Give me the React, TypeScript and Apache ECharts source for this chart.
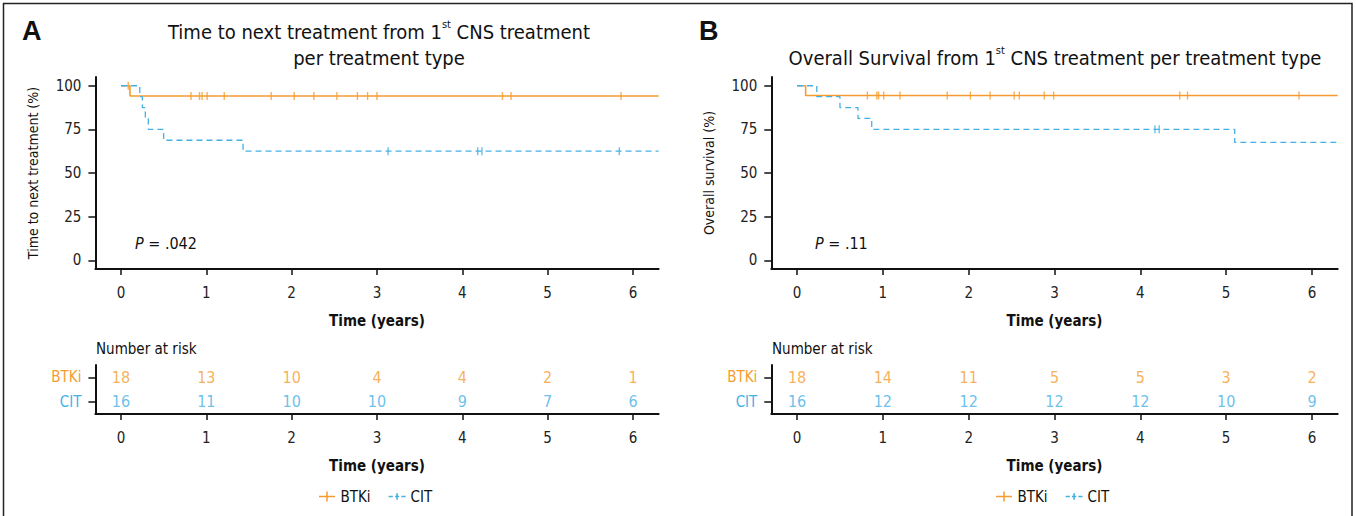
import React, { useEffect, useRef } from 'react';
import * as echarts from 'echarts';

const ORANGE = '#F59C30';
const BLUE = '#45B0E5';
const FONT = "'Liberation Sans Narrow', 'DejaVu Sans Condensed', 'Roboto Condensed', sans-serif";

const years = [0, 1, 2, 3, 4, 5, 6];
const yTicks = [0, 25, 50, 75, 100];
const groups = ['CIT', 'BTKi'];
const END_TIME = 6.3;

// Panel A: time to next treatment
const aBtkiEventTimes = [0.105];
const aBtkiSurv = [94.1];
const aBtkiCensor = [0.085, 0.82, 0.92, 0.95, 1.01, 1.21, 1.76, 2.03, 2.26, 2.53, 2.77, 2.89, 3.0, 4.47, 4.57, 5.86];
const aCitEventTimes = [0.22, 0.25, 0.285, 0.32, 0.5, 1.43];
const aCitSurv = [93.75, 87.5, 81.25, 75, 68.75, 62.5];
const aCitCensor = [3.13, 4.18, 4.23, 5.84];
const aRiskBtki = [18, 13, 10, 4, 4, 2, 1];
const aRiskCit = [16, 11, 10, 10, 9, 7, 6];

// Panel B: overall survival
const bBtkiEventTimes = [0.1];
const bBtkiSurv = [94.4];
const bBtkiCensor = [0.82, 0.93, 0.95, 1.01, 1.2, 1.75, 2.02, 2.25, 2.53, 2.59, 2.88, 2.99, 4.46, 4.55, 5.85];
const bCitEventTimes = [0.23, 0.5, 0.71, 0.87, 5.1];
const bCitSurv = [93.75, 87.5, 81.25, 75, 67.5];
const bCitCensor = [4.17, 4.22];
const bRiskBtki = [18, 14, 11, 5, 5, 3, 2];
const bRiskCit = [16, 12, 12, 12, 12, 10, 9];

function stepPoints(times: number[], surv: number[]) {
  const pts: number[][] = [[0, 100]];
  let cur = 100;
  times.forEach((t, i) => {
    pts.push([t, cur]);
    cur = surv[i];
    pts.push([t, cur]);
  });
  pts.push([END_TIME, cur]);
  return pts;
}
function survAt(times: number[], surv: number[], t: number) {
  let cur = 100;
  times.forEach((et, i) => {
    if (et <= t) cur = surv[i];
  });
  return cur;
}
function censorPoints(times: number[], surv: number[], cens: number[]) {
  return cens.map((c) => [c, survAt(times, surv, c)]);
}

const axisLineStyle = { show: true, onZero: false, lineStyle: { color: '#111', width: 2 } };
const tickStyle = { show: true, length: 6, lineStyle: { color: '#111', width: 1.5 } };

function plotX(grid: number) {
  return {
    type: 'value', gridIndex: grid, min: -0.3, max: END_TIME,
    name: 'Time (years)', nameLocation: 'middle', nameGap: 44,
    nameTextStyle: { fontFamily: FONT, fontSize: 15, fontWeight: 'bold', color: '#111' },
    axisLine: axisLineStyle,
    axisTick: { ...tickStyle, customValues: years },
    axisLabel: { customValues: years, margin: 16, fontFamily: FONT, fontSize: 15, color: '#222' },
    splitLine: { show: false },
  };
}
function plotY(grid: number, name: string) {
  return {
    type: 'value', gridIndex: grid, min: -5, max: 105,
    name, nameLocation: 'middle', nameGap: 55,
    nameTextStyle: { fontFamily: FONT, fontSize: 14, color: '#111' },
    axisLine: axisLineStyle,
    axisTick: { ...tickStyle, length: 7, customValues: yTicks },
    axisLabel: { customValues: yTicks, margin: 14, fontFamily: FONT, fontSize: 15, color: '#222' },
    splitLine: { show: false },
  };
}
function tableY(grid: number) {
  return {
    type: 'category', gridIndex: grid, data: groups,
    axisLine: axisLineStyle,
    axisTick: { ...tickStyle, length: 7, alignWithLabel: true },
    axisLabel: {
      margin: 14, fontFamily: FONT, fontSize: 15,
      formatter: (v: string) => `{${v}|${v}}`,
      rich: { BTKi: { color: ORANGE, fontFamily: FONT, fontSize: 15 }, CIT: { color: BLUE, fontFamily: FONT, fontSize: 15 } },
    },
    splitLine: { show: false },
  };
}

function kmSeries(name: string, color: string, dashed: boolean, grid: number, times: number[], surv: number[], cens: number[]) {
  return [
    {
      name, type: 'line', xAxisIndex: grid, yAxisIndex: grid, data: stepPoints(times, surv),
      showSymbol: false, symbol: 'none', color,
      lineStyle: { color, width: dashed ? 1.3 : 1.6, type: dashed ? [6, 4] : 'solid' },
      silent: true,
    },
    {
      name, type: 'scatter', xAxisIndex: grid, yAxisIndex: grid, data: censorPoints(times, surv, cens),
      symbol: 'rect', symbolSize: [1.4, 8], itemStyle: { color }, silent: true,
    },
  ];
}
function riskSeries(color: string, grid: number, group: string, values: number[]) {
  return {
    name: 'risk-' + group, type: 'scatter', xAxisIndex: grid, yAxisIndex: grid,
    data: years.map((y, i) => [y, group, values[i]]),
    symbolSize: 0,
    label: {
      show: true, position: 'inside', formatter: (p: any) => String(p.value[2]),
      color, fontFamily: FONT, fontSize: 16,
    },
    silent: true,
  };
}

const ICON_BTKI = 'path://M0,4.25h16v1.5h-16z M7.25,0h1.5v10h-1.5z';
const ICON_CIT = 'path://M0,4.25h4v1.5h-4z M6,4.25h4v1.5h-4z M12,4.25h4v1.5h-4z M7.25,2h1.5v6h-1.5z';

function legend(left: number) {
  return {
    left, top: 484, itemWidth: 17, itemHeight: 10, itemGap: 18,
    data: [{ name: 'BTKi', icon: ICON_BTKI }, { name: 'CIT', icon: ICON_CIT }],
    textStyle: { fontFamily: FONT, fontSize: 15, color: '#111' },
    selectedMode: false,
  };
}

const titleRich = {
  sup: { fontSize: 11, fontFamily: FONT, verticalAlign: 'top', lineHeight: 14, fill: '#111' },
};

const option: any = {
  animation: false,
  backgroundColor: '#fff',
  grid: [
    { left: 95.4, top: 77, width: 563.2, height: 192 },
    { left: 95.4, top: 365, width: 563.2, height: 49 },
    { left: 771.3, top: 77, width: 566.4, height: 192 },
    { left: 771.3, top: 365, width: 566.4, height: 49 },
  ],
  xAxis: [plotX(0), plotX(1), plotX(2), plotX(3)],
  yAxis: [
    plotY(0, 'Time to next treatment (%)'),
    tableY(1),
    plotY(2, 'Overall survival (%)'),
    tableY(3),
  ],
  legend: [legend(314), legend(991)],
  series: [
    ...kmSeries('BTKi', ORANGE, false, 0, aBtkiEventTimes, aBtkiSurv, aBtkiCensor),
    ...kmSeries('CIT', BLUE, true, 0, aCitEventTimes, aCitSurv, aCitCensor),
    riskSeries(ORANGE, 1, 'BTKi', aRiskBtki),
    riskSeries(BLUE, 1, 'CIT', aRiskCit),
    ...kmSeries('BTKi', ORANGE, false, 2, bBtkiEventTimes, bBtkiSurv, bBtkiCensor),
    ...kmSeries('CIT', BLUE, true, 2, bCitEventTimes, bCitSurv, bCitCensor),
    riskSeries(ORANGE, 3, 'BTKi', bRiskBtki),
    riskSeries(BLUE, 3, 'CIT', bRiskCit),
  ],
  graphic: [
    { type: 'rect', silent: true, shape: { x: 3.5, y: 3.5, width: 1348.5, height: 530 }, style: { fill: 'none', stroke: '#222', lineWidth: 1.5 } },
    { type: 'text', x: 22, y: 31, style: { text: 'A', fontFamily: "'Liberation Sans', Arial, sans-serif", fontSize: 27, fontWeight: 'bold', fill: '#111', textVerticalAlign: 'middle' } },
    { type: 'text', x: 699, y: 31, style: { text: 'B', fontFamily: "'Liberation Sans', Arial, sans-serif", fontSize: 27, fontWeight: 'bold', fill: '#111', textVerticalAlign: 'middle' } },
    {
      type: 'text', x: 379, y: 45,
      style: {
        text: 'Time to next treatment from 1{sup|st} CNS treatment\nper treatment type',
        rich: titleRich, fontFamily: FONT, fontSize: 20, lineHeight: 26, fill: '#111',
        textAlign: 'center', textVerticalAlign: 'middle',
      },
    },
    {
      type: 'text', x: 1055, y: 58,
      style: {
        text: 'Overall Survival from 1{sup|st} CNS treatment per treatment type',
        rich: titleRich, fontFamily: FONT, fontSize: 20, lineHeight: 26, fill: '#111',
        textAlign: 'center', textVerticalAlign: 'middle',
      },
    },
    { type: 'text', x: 135, y: 243, style: { text: '{i|P} = .042', rich: { i: { fontStyle: 'italic', fontFamily: FONT, fontSize: 16 } }, fontFamily: FONT, fontSize: 16, fill: '#111', textVerticalAlign: 'middle' } },
    { type: 'text', x: 815, y: 243, style: { text: '{i|P} = .11', rich: { i: { fontStyle: 'italic', fontFamily: FONT, fontSize: 16 } }, fontFamily: FONT, fontSize: 16, fill: '#111', textVerticalAlign: 'middle' } },
    { type: 'text', x: 96, y: 349, style: { text: 'Number at risk', fontFamily: FONT, fontSize: 15, fill: '#111', textVerticalAlign: 'middle' } },
    { type: 'text', x: 772, y: 349, style: { text: 'Number at risk', fontFamily: FONT, fontSize: 15, fill: '#111', textVerticalAlign: 'middle' } },
  ],
};

export default function App() {
  const ref = useRef<HTMLDivElement>(null);
  useEffect(() => {
    document.body.style.margin = '0';
    const chart = echarts.init(ref.current as HTMLDivElement, null, { renderer: 'svg' });
    chart.setOption(option);
    return () => chart.dispose();
  }, []);
  return <div ref={ref} style={{ width: 1356, height: 516 }} />;
}
